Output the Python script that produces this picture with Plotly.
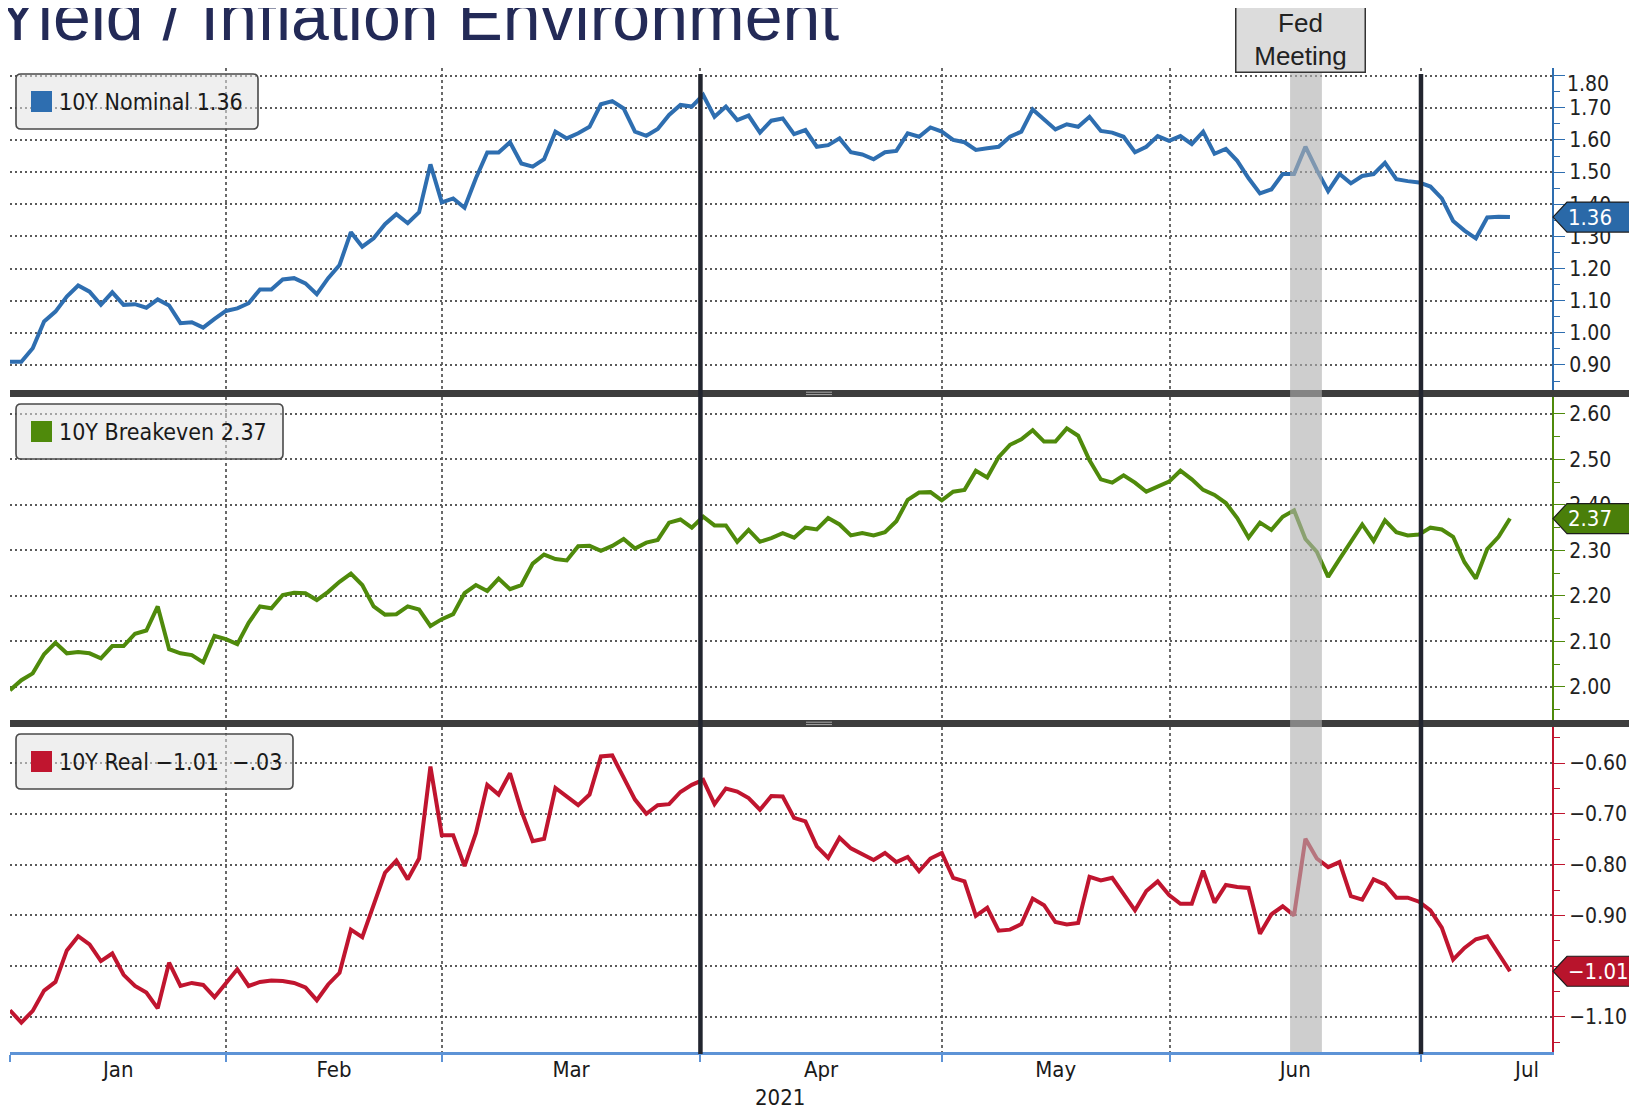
import plotly.graph_objects as go

# ---------------- data (daily, trading days from 4 Jan 2021) ----------------
nominal = [0.910, 0.910, 0.952, 1.035, 1.066, 1.113, 1.147, 1.128, 1.087, 1.126,
           1.087, 1.089, 1.078, 1.104, 1.085, 1.030, 1.033, 1.016, 1.043, 1.068,
           1.076, 1.092, 1.135, 1.135, 1.166, 1.170, 1.154, 1.120, 1.170, 1.211,
           1.313, 1.268, 1.294, 1.338, 1.369, 1.341, 1.375, 1.524, 1.406, 1.418,
           1.389, 1.481, 1.561, 1.561, 1.593, 1.527, 1.517, 1.540, 1.626, 1.605,
           1.621, 1.641, 1.711, 1.721, 1.698, 1.626, 1.613, 1.634, 1.678, 1.709,
           1.704, 1.740, 1.672, 1.704, 1.662, 1.676, 1.623, 1.660, 1.667, 1.618,
           1.631, 1.579, 1.584, 1.605, 1.562, 1.555, 1.540, 1.562, 1.566, 1.621,
           1.610, 1.639, 1.626, 1.600, 1.593, 1.569, 1.574, 1.579, 1.610, 1.626,
           1.695, 1.662, 1.633, 1.649, 1.641, 1.672, 1.628, 1.623, 1.610, 1.562,
           1.579, 1.612, 1.597, 1.612, 1.587, 1.626, 1.557, 1.572, 1.535, 1.481,
           1.434, 1.446, 1.494, 1.494, 1.579, 1.507, 1.441, 1.494, 1.465, 1.488,
           1.494, 1.529, 1.478, 1.472, 1.468, 1.455, 1.418, 1.348, 1.318, 1.294,
           1.359, 1.361, 1.360]

breakeven = [1.993, 2.015, 2.030, 2.072, 2.097, 2.074, 2.077, 2.074, 2.063, 2.090,
             2.090, 2.117, 2.124, 2.177, 2.083, 2.074, 2.070, 2.054, 2.112, 2.105,
             2.094, 2.141, 2.177, 2.173, 2.202, 2.207, 2.206, 2.191, 2.209, 2.231,
             2.249, 2.224, 2.177, 2.159, 2.160, 2.177, 2.170, 2.134, 2.149, 2.160,
             2.206, 2.224, 2.211, 2.238, 2.215, 2.224, 2.271, 2.291, 2.281, 2.278,
             2.309, 2.310, 2.299, 2.310, 2.325, 2.304, 2.317, 2.323, 2.361, 2.368,
             2.350, 2.374, 2.355, 2.355, 2.319, 2.345, 2.319, 2.327, 2.338, 2.328,
             2.350, 2.346, 2.371, 2.357, 2.333, 2.338, 2.333, 2.340, 2.364, 2.411,
             2.427, 2.428, 2.410, 2.429, 2.433, 2.475, 2.460, 2.505, 2.532, 2.544,
             2.564, 2.539, 2.539, 2.568, 2.552, 2.498, 2.456, 2.449, 2.465, 2.449,
             2.429, 2.440, 2.451, 2.475, 2.456, 2.433, 2.422, 2.404, 2.371, 2.328,
             2.361, 2.345, 2.374, 2.388, 2.325, 2.297, 2.242, 2.281, 2.321, 2.357,
             2.321, 2.366, 2.340, 2.333, 2.335, 2.350, 2.346, 2.330, 2.274, 2.238,
             2.303, 2.330, 2.370]

real = [-1.087, -1.111, -1.088, -1.048, -1.031, -0.969, -0.941, -0.957, -0.990, -0.975,
        -1.017, -1.039, -1.052, -1.083, -0.993, -1.039, -1.033, -1.037, -1.061, -1.033,
        -1.006, -1.039, -1.031, -1.028, -1.029, -1.033, -1.042, -1.067, -1.036, -1.013,
        -0.928, -0.943, -0.879, -0.816, -0.792, -0.829, -0.788, -0.607, -0.742, -0.742,
        -0.803, -0.738, -0.643, -0.662, -0.620, -0.694, -0.754, -0.749, -0.649, -0.667,
        -0.683, -0.662, -0.587, -0.585, -0.628, -0.672, -0.700, -0.683, -0.681, -0.657,
        -0.643, -0.633, -0.681, -0.650, -0.656, -0.669, -0.692, -0.665, -0.666, -0.708,
        -0.715, -0.764, -0.787, -0.747, -0.768, -0.779, -0.791, -0.777, -0.795, -0.785,
        -0.813, -0.788, -0.777, -0.826, -0.833, -0.901, -0.885, -0.930, -0.928, -0.917,
        -0.867, -0.880, -0.913, -0.918, -0.915, -0.824, -0.831, -0.826, -0.859, -0.890,
        -0.852, -0.833, -0.860, -0.877, -0.877, -0.812, -0.875, -0.840, -0.844, -0.846,
        -0.936, -0.898, -0.882, -0.900, -0.749, -0.788, -0.805, -0.795, -0.862, -0.869,
        -0.829, -0.839, -0.865, -0.865, -0.873, -0.890, -0.924, -0.987, -0.964, -0.947,
        -0.941, -0.974, -1.010]

trading_day = list(range(len(nominal)))

month_labels = ["Jan", "Feb", "Mar", "Apr", "May", "Jun", "Jul"]
month_bounds = [0, 19.04, 37.99, 60.76, 82.0, 102.04, 124.17]   # trading-day index of month starts
jul_label_at = 133.5
quarter_lines = [60.76, 124.17]
fed_window = (112.65, 115.45)

nominal_ticks = [0.90, 1.00, 1.10, 1.20, 1.30, 1.40, 1.50, 1.60, 1.70, 1.80]
breakeven_ticks = [2.00, 2.10, 2.20, 2.30, 2.40, 2.50, 2.60]
real_ticks = [-1.10, -1.00, -0.90, -0.80, -0.70, -0.60]

legend_labels = ["10Y Nominal 1.36", "10Y Breakeven 2.37", "10Y Real \u22121.01\u00a0\u00a0\u2212.03"]

# ---------------- layout geometry (page pixels) ----------------
PAGE_W, PAGE_H = 1637, 1110
OFF = 8                      # default page margin in the browser
FIG_W, FIG_H = PAGE_W - OFF, PAGE_H - OFF
PL, PR, PT, PB = 10, 1552, 68, 1052
X_RANGE = [0, 135.7]
FONT = "DejaVu Sans Condensed, DejaVu Sans, sans-serif"


def fx(px):
    return (px - PL) / (PR - PL)


def fy(py):
    return (PB - py) / (PB - PT)


def fmt(v):
    return f"{v:.2f}".replace("-", "\u2212")


panels = [
    dict(values=nominal, ticks=nominal_ticks, rng=[0.822, 1.824], top=68, bottom=390,
         color="#2e6eb0", tagcol="#2a69a8", box=(16, 74, 258, 129), top_label_drop=8),
    dict(values=breakeven, ticks=breakeven_ticks, rng=[1.9275, 2.637], top=397, bottom=720,
         color="#4f8a0b", tagcol="#4a7f0a", box=(16, 404, 283, 459), top_label_drop=0),
    dict(values=real, ticks=real_ticks, rng=[-1.169, -0.529], top=727, bottom=1052,
         color="#c0152f", tagcol="#b8142c", box=(16, 734, 293, 789), top_label_drop=0),
]

fig = go.Figure()
shapes = []
annotations = []
layout_axes = {}


def rrect(x0, y0, x1, y1, r):
    return (f"M {fx(x0 + r)},{fy(y0)} L {fx(x1 - r)},{fy(y0)} Q {fx(x1)},{fy(y0)} {fx(x1)},{fy(y0 + r)} "
            f"L {fx(x1)},{fy(y1 - r)} Q {fx(x1)},{fy(y1)} {fx(x1 - r)},{fy(y1)} "
            f"L {fx(x0 + r)},{fy(y1)} Q {fx(x0)},{fy(y1)} {fx(x0)},{fy(y1 - r)} "
            f"L {fx(x0)},{fy(y0 + r)} Q {fx(x0)},{fy(y0)} {fx(x0 + r)},{fy(y0)} Z")


label_pos = [(month_bounds[i] + month_bounds[i + 1]) / 2 for i in range(len(month_bounds) - 1)] + [jul_label_at]
TICKFONT = dict(family=FONT, size=21, color="#222222")

for k, p in enumerate(panels):
    sfx = "" if k == 0 else str(k + 1)
    xname, yname = "x" + sfx, "y" + sfx
    last = k == len(panels) - 1

    fig.add_trace(go.Scatter(x=trading_day, y=p["values"], mode="lines", xaxis=xname, yaxis=yname,
                             line=dict(color=p["color"], width=4), showlegend=False,
                             hoverinfo="skip"))
    # arrow-head tick markers on the right axis
    fig.add_trace(go.Scatter(x=[X_RANGE[1] + 0.52] * len(p["ticks"]), y=p["ticks"], mode="markers",
                             xaxis=xname, yaxis=yname, cliponaxis=False,
                             marker=dict(symbol="triangle-right", size=11, color=p["color"]),
                             showlegend=False, hoverinfo="skip"))

    xa = dict(domain=[0, 1], anchor=yname, range=X_RANGE, showgrid=False, zeroline=False,
              showticklabels=last, fixedrange=True,
              minor=dict(tickmode="array", tickvals=month_bounds, showgrid=True,
                         gridcolor="#6a6a6a", griddash="3px,3px", gridwidth=1.5,
                         ticks="outside" if last else "", ticklen=7, tickwidth=1.5,
                         tickcolor="#5d93d6"))
    if last:
        xa.update(showline=True, linecolor="#5d93d6", linewidth=3, tickmode="array",
                  tickvals=label_pos, ticktext=month_labels, ticks="", ticklen=0,
                  tickfont=dict(family=FONT, size=22, color="#1a1a1a"), ticklabelstandoff=-4)
    else:
        xa.update(matches="x3")
    layout_axes["xaxis" + sfx] = xa

    ticktext = [fmt(v) for v in p["ticks"]]
    if p["top_label_drop"]:
        # the top-most label sits slightly below its tick, as in the source
        ticktext[-1] = ""
        annotations.append(dict(xref="paper", yref=yname, x=fx(1565), y=p["ticks"][-1], xanchor="left",
                                yanchor="middle", yshift=-p["top_label_drop"], text=fmt(p["ticks"][-1]),
                                showarrow=False, font=TICKFONT))

    layout_axes["yaxis" + sfx] = dict(
        domain=[fy(p["bottom"]), fy(p["top"])], anchor=xname, side="right", range=p["rng"],
        tickmode="array", tickvals=p["ticks"], ticktext=ticktext,
        showgrid=True, gridcolor="#5a5a5a", griddash="2px,3px", gridwidth=1.5, zeroline=False,
        showline=True, linecolor=p["color"], linewidth=2, ticks="outside", ticklen=11,
        tickwidth=1, tickcolor=p["color"], fixedrange=True, tickfont=TICKFONT,
        minor=dict(dtick=0.05, tick0=0, ticks="outside", ticklen=6, tickwidth=1.2,
                   tickcolor=p["color"], showgrid=False))

    # legend box
    bx0, by0, bx1, by1 = p["box"]
    shapes.append(dict(type="path", xref="paper", yref="paper", path=rrect(bx0, by0, bx1, by1, 5),
                       fillcolor="rgba(226,226,226,0.55)", line=dict(color="#4a4a4a", width=1.6),
                       layer="above"))
    cy = (by0 + by1) / 2
    shapes.append(dict(type="rect", xref="paper", yref="paper", x0=fx(31), x1=fx(52),
                       y0=fy(cy - 10.5), y1=fy(cy + 10.5), fillcolor=p["color"], line=dict(width=0),
                       layer="above"))
    annotations.append(dict(xref="paper", yref="paper", x=fx(57), y=fy(cy), xanchor="left",
                            yanchor="middle", text=legend_labels[k], showarrow=False,
                            font=dict(family=FONT, size=23, color="#1a1a1a")))

    # last-value tag
    v = p["values"][-1]
    dy = 15 * (p["rng"][1] - p["rng"][0]) / (p["bottom"] - p["top"])
    tip, bl, br = fx(1553), fx(1567), fx(1632)
    shapes.append(dict(type="path", xref="paper", yref=yname,
                       path=f"M {tip},{v} L {bl},{v + dy} L {br},{v + dy} L {br},{v - dy} L {bl},{v - dy} Z",
                       fillcolor=p["tagcol"], line=dict(color="#1c1c1c", width=1.2), layer="above"))
    annotations.append(dict(xref="paper", yref=yname, x=fx(1566), y=v, xanchor="left",
                            yanchor="middle", text=fmt(v), showarrow=False,
                            font=dict(family=FONT, size=22, color="white")))

# panel dividers with grab handles
for (d0, d1) in [(390, 397), (720, 727)]:
    shapes.append(dict(type="rect", xref="paper", yref="paper", x0=fx(10), x1=fx(1632),
                       y0=fy(d1), y1=fy(d0), fillcolor="#3d3d3d", line=dict(width=0), layer="above"))
    for hy in (d0 + 2.2, d0 + 4.6):
        shapes.append(dict(type="line", xref="paper", yref="paper", x0=fx(806), x1=fx(832),
                           y0=fy(hy), y1=fy(hy), line=dict(color="#a8a8a8", width=1), layer="above"))

# Fed meeting band
shapes.append(dict(type="rect", xref="x3", yref="paper", x0=fed_window[0], x1=fed_window[1],
                   y0=0, y1=1, fillcolor="rgba(176,176,176,0.62)", line=dict(width=0), layer="above"))

# quarter-end black lines
for q in quarter_lines:
    shapes.append(dict(type="line", xref="x3", yref="paper", x0=q, x1=q, y0=fy(1054), y1=fy(74),
                       line=dict(color="#22252f", width=4.5), layer="above"))

# title (cut at the top edge as in the source)
annotations.append(dict(xref="paper", yref="paper", x=fx(-6), y=fy(-23), xanchor="left", yanchor="top",
                        text="Yield / Inflation Environment", showarrow=False, borderpad=0,
                        font=dict(family="Liberation Sans, Arial, sans-serif", size=68, color="#232a57")))

# Fed meeting label
annotations.append(dict(xref="paper", yref="paper", x=fx(1300), y=fy(6), xanchor="center", yanchor="top",
                        text="Fed<br>Meeting", showarrow=False, width=124, height=60, borderpad=2,
                        bgcolor="#dcdcdc", bordercolor="#333333", borderwidth=1.5, align="center",
                        valign="middle",
                        font=dict(family="Liberation Sans, Arial, sans-serif", size=26, color="#222222")))

# year label
annotations.append(dict(xref="paper", yref="paper", x=fx(780), y=fy(1097), xanchor="center",
                        yanchor="middle", text="2021", showarrow=False,
                        font=dict(family=FONT, size=22, color="#1a1a1a")))

fig.update_layout(
    width=FIG_W, height=FIG_H,
    margin=dict(l=PL - OFF, r=PAGE_W - PR, t=PT - OFF, b=PAGE_H - PB, pad=0),
    paper_bgcolor="white", plot_bgcolor="white",
    showlegend=False, hovermode=False,
    shapes=shapes, annotations=annotations,
    **layout_axes,
)

fig.write_html("out.html")
